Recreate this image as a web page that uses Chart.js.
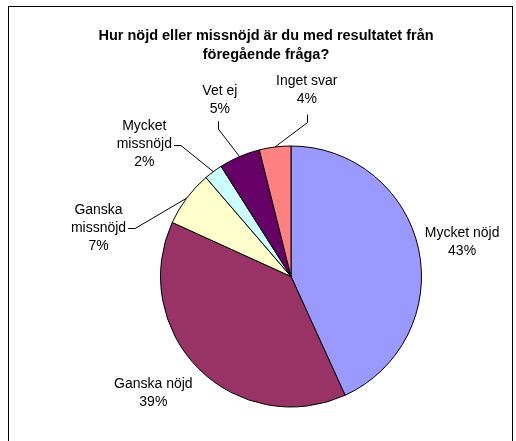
<!DOCTYPE html>
<html>
<head>
<meta charset="utf-8">
<script src="https://cdn.jsdelivr.net/npm/chart.js@4.4.1/dist/chart.umd.min.js"></script>
<style>
  html, body { margin: 0; padding: 0; background: #fff; }
  canvas { display: block; }
</style>
</head>
<body>
<canvas id="c" width="516" height="441"></canvas>
<script>
const titleLines = ["Hur nöjd eller missnöjd är du med resultatet från", "föregående fråga?"];
const categories = ["Mycket nöjd", "Ganska nöjd", "Ganska missnöjd", "Mycket missnöjd", "Vet ej", "Inget svar"];
const labelLines = [["Mycket nöjd"], ["Ganska nöjd"], ["Ganska", "missnöjd"], ["Mycket", "missnöjd"], ["Vet ej"], ["Inget svar"]];
const values = [43.2, 38.6, 6.9, 2.3, 5.1, 3.9];
const percentLabels = ["43%", "39%", "7%", "2%", "5%", "4%"];
const colors = ["#9999FF", "#993366", "#FFFFCC", "#CCFFFF", "#660066", "#FF8080"];

// label placement relative to pie centre, in units of radius; leader style
const labelLayout = [
  { dx: 1.311, dy: -0.267, leader: null },
  { dx: -1.055, dy: 0.895, leader: null },
  { dx: -1.475, dy: -0.370, leader: "h", gap: 0 },
  { dx: -1.124, dy: -1.011, leader: "h", gap: 0 },
  { dx: -0.545, dy: -1.351, leader: "v", gap: 12, shift: -2 },
  { dx: 0.121, dy: -1.425, leader: "v", gap: 15, shift: 0 }
];

const FONT = '"Liberation Sans", Arial, sans-serif';

const framePlugin = {
  id: 'frame',
  beforeDraw(chart) {
    const ctx = chart.ctx;
    ctx.save();
    ctx.fillStyle = '#fff';
    ctx.fillRect(0, 0, chart.width, chart.height);
    ctx.strokeStyle = '#000';
    ctx.lineWidth = 1;
    ctx.strokeRect(8.5, 6.5, 504, 500);
    ctx.fillStyle = '#000';
    ctx.font = 'bold 14.5px ' + FONT;
    ctx.textAlign = 'center';
    ctx.textBaseline = 'middle';
    titleLines.forEach((t, i) => ctx.fillText(t, 266, 36 + i * 19));
    ctx.restore();
  }
};

const labelPlugin = {
  id: 'pieLabels',
  afterDraw(chart) {
    const ctx = chart.ctx;
    const meta = chart.getDatasetMeta(0);
    ctx.save();
    ctx.font = '14px ' + FONT;
    ctx.textAlign = 'center';
    ctx.textBaseline = 'middle';
    ctx.fillStyle = '#000';
    ctx.strokeStyle = '#000';
    ctx.lineWidth = 1;
    const lh = 18;
    meta.data.forEach((arc, i) => {
      const R = arc.outerRadius;
      const cx = arc.x, cy = arc.y;
      const L = labelLayout[i];
      const lines = labelLines[i].concat([percentLabels[i]]);
      const bx = cx + L.dx * R;
      const by = cy + L.dy * R;
      const top = by - (lines.length - 1) * lh / 2;
      let maxW = 0;
      lines.forEach((t, k) => {
        ctx.fillText(t, bx, top + k * lh);
        maxW = Math.max(maxW, ctx.measureText(t).width);
      });
      if (L.leader) {
        const mid = (arc.startAngle + arc.endAngle) / 2;
        const px = cx + Math.cos(mid) * R;
        const py = cy + Math.sin(mid) * R;
        ctx.beginPath();
        if (L.leader === 'h') {
          const ly = Math.round(top + lh) + 0.5;
          const sx = bx + maxW / 2 + 2;
          ctx.moveTo(sx, ly);
          ctx.lineTo(sx + 7, ly);
          ctx.lineTo(px, py);
        } else {
          const lx = Math.round(bx + L.shift) + 0.5;
          const sy = top + (lines.length - 1) * lh + L.gap;
          ctx.moveTo(lx, sy);
          ctx.lineTo(lx, sy + 8);
          ctx.lineTo(px, py);
        }
        ctx.stroke();
      }
    });
    ctx.restore();
  }
};

new Chart(document.getElementById('c'), {
  type: 'pie',
  data: {
    labels: categories,
    datasets: [{
      data: values,
      backgroundColor: colors,
      borderColor: '#000',
      borderWidth: 1
    }]
  },
  options: {
    responsive: false,
    animation: false,
    layout: { padding: { left: 160, right: 94, top: 145, bottom: 33 } },
    plugins: {
      legend: { display: false },
      tooltip: { enabled: false },
      title: { display: false }
    }
  },
  plugins: [framePlugin, labelPlugin]
});
</script>
</body>
</html>
